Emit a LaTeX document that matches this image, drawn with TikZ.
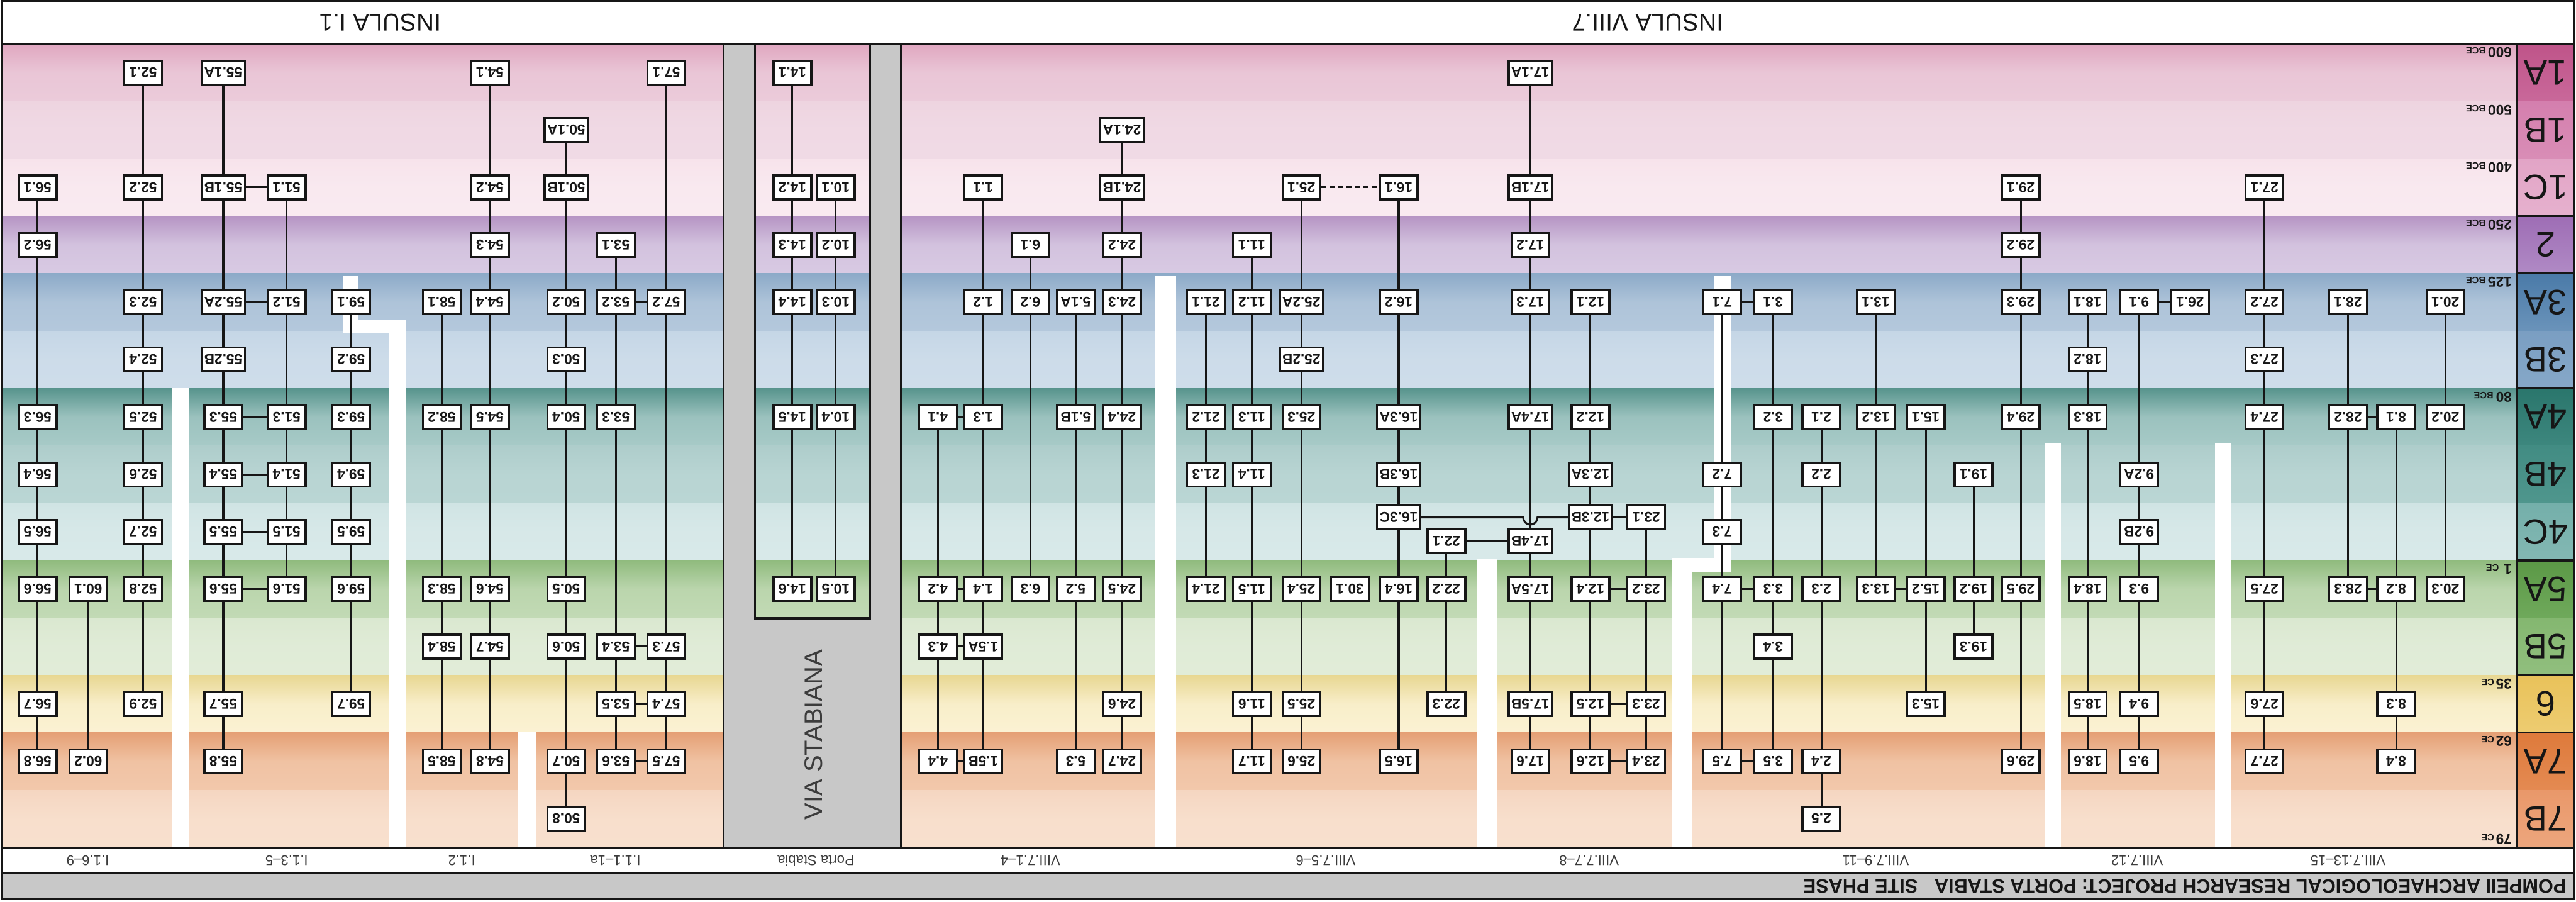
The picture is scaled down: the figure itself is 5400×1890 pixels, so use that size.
\documentclass[tikz,border=0pt]{standalone}
\usepackage{fontspec}
\setmainfont{Liberation Sans}
\usetikzlibrary{positioning}
\definecolor{ink}{HTML}{161616}
\definecolor{road}{HTML}{C8C8C8}
\definecolor{street}{HTML}{3C3C3C}
\pgfdeclarelayer{bands}
\pgfdeclarelayer{links}
\pgfsetlayers{bands,links,main}

\begin{document}
\begin{tikzpicture}[x=0.01cm,y=-0.01cm,
  ctx/.style={draw=ink,line width=1.25pt,fill=white,rotate=180,minimum width=0.79cm,minimum height=0.5cm,
    inner xsep=1.5pt,inner ysep=0pt,font=\fontsize{8.5}{9}\selectfont\bfseries,text=ink},
  link/.style={draw=ink,line width=1.15pt},
  gap/.style={fill=white},
  rule/.style={draw=ink,line width=1.2pt},
  phaselbl/.style={rotate=180,font=\fontsize{21}{21}\selectfont,text=ink},
  datelbl/.style={rotate=180,inner sep=0pt,font=\fontsize{8.5}{9}\selectfont\bfseries,text=ink},
  area/.style={rotate=180,font=\fontsize{8.3}{9}\selectfont,text=street},
  insula/.style={rotate=180,font=\fontsize{14.5}{15}\selectfont,text=ink},
  banner/.style={rotate=180,inner sep=0pt,font=\fontsize{11.5}{12}\selectfont\bfseries,text=ink}]

  \useasboundingbox (0,0) rectangle (5400,1890);

  \begin{pgfonlayer}{bands}
    \fill[white] (0,0) rectangle (5400,1890);
    % phase bands
    \foreach \row/\ct/\cb in {0/E0A7C0/EBCBDA,1/EED4E0/F0DAE5,2/F7E3EB/F9EAF0,3/B695C4/D8CAE3,
        4/8CAAC8/B4C8DC,5/C5D6E6/CEDDEA,6/58948D/A7CAC7,7/AECDCB/BAD6D4,8/D0E4E4/D8E9E9,
        9/90BB7E/C2DAB5,10/DAE8D0/E1ECD8,11/E8D792/FBF2D3,12/E5A075/F2C8AB,13/F5D6C1/F8E0CE}{
      \definecolor{bandtop}{HTML}{\ct}\definecolor{bandbot}{HTML}{\cb}
      \shade[top color=bandtop,bottom color=bandbot,middle color=bandbot!85!bandtop]
        (3,{92+120.3*\row}) rectangle (5275,{92+120.3*(\row+1)});
    }
    % phase column
    \foreach \row/\ct/\cb in {0/BF5489/C9689A,1/D47FAE/D98DB6,2/E2A4C6/E6B1CE,3/9E6DB5/B08AC5,
        4/4A7AA8/6A93BA,5/7A9EC2/86A8C8,6/2A766C/3D877E,7/428C83/4F968D,8/74AFAA/83B8B3,
        9/5B9846/6FA95B,10/84B770/91BF7E,11/E9C25A/EDCC71,12/DE7A3B/E48A52,13/E9986A/EDA67D}{
      \definecolor{celltop}{HTML}{\ct}\definecolor{cellbot}{HTML}{\cb}
      \shade[top color=celltop,bottom color=cellbot]
        (5275,{92+120.3*\row}) rectangle (5396,{92+120.3*(\row+1)});
    }
    % via stabiana
    \fill[road] (1517,92) rectangle (1583,1776);
    \fill[road] (1824,92) rectangle (1889,1776);
    \fill[road] (1583,1296) rectangle (1824,1776);
    \fill[road] (3,1831) rectangle (5396,1885);
    % property divisions
    \fill[gap] (360,813) rectangle (396,1776);
    \fill[gap] (720,577) rectangle (752,697);
    \fill[gap] (720,670) rectangle (850,697);
    \fill[gap] (815,670) rectangle (850,1776);
    \fill[gap] (1085,1535) rectangle (1123,1776);
    \fill[gap] (2420,577) rectangle (2465,1776);
    \fill[gap] (3096,1172) rectangle (3139,1776);
    \fill[gap] (3506,1170) rectangle (3547,1776);
    \fill[gap] (3506,1170) rectangle (3630,1198);
    \fill[gap] (3593,577) rectangle (3630,1198);
    \fill[gap] (4286,930) rectangle (4320,1776);
    \fill[gap] (4643,930) rectangle (4678,1776);
  \end{pgfonlayer}

  % frame
  \draw[rule] (3,2) rectangle (5396,1885);
  \draw[rule] (3,92) -- (5396,92);
  \draw[rule] (3,1776) -- (5396,1776);
  \draw[rule] (3,1831) -- (5396,1831);
  \draw[rule] (1517,92) -- (1517,1776);
  \draw[rule] (1889,92) -- (1889,1776);
  \draw[rule] (1583,92) -- (1583,1296) -- (1824,1296) -- (1824,92);
  \draw[rule] (5275,92) -- (5275,1776);
  \foreach \row in {3,4,6,9,11,12}
    \draw[rule] (5275,{92+120.3*\row}) -- (5396,{92+120.3*\row});

  % headings
  \node[insula] (ins1) at (797,47) {INSULA I.1};
  \node[insula] (ins8) at (3454,47) {INSULA VIII.7};
  \node[rotate=90,font=\fontsize{15}{15}\selectfont,text=street] (via) at (1705,1540) {VIA STABIANA};
  \node[banner,anchor=west] (banner) at (5380,1858) {POMPEII ARCHAEOLOGICAL RESEARCH PROJECT: PORTA STABIA\hspace{10pt}SITE PHASE};
  \foreach \x/\t [count=\i] in {184/{I.1.6--9},601/{I.1.3--5},968/{I.1.2},1290/{I.1.1--1a},1710/{Porta Stabia},
      2160/{VIII.7.1--4},2779/{VIII.7.5--6},3331/{VIII.7.7--8},3932/{VIII.7.9--11},4480/{VIII.7.12},4922/{VIII.7.13--15}}
    \node[area] (area\i) at (\x,1804) {\t};

  % phases and dates
  \foreach \t [count=\i from 0] in {1A,1B,1C,2,3A,3B,4A,4B,4C,5A,5B,6,7A,7B}
    \node[phaselbl] (ph\i) at (5336,{152.2+120.3*\i}) {\t};
  \foreach \row/\yr/\era/\sp in {0/600/BCE/1.5,1/500/BCE/1.5,2/400/BCE/1.5,3/250/BCE/1.5,4/125/BCE/1.5,
      6/80/BCE/1.5,9/1/CE/3,11/35/CE/1,12/62/CE/1}
    \node[datelbl,anchor=south west] (d\row) at (5266,{99+120.3*\row}) {\yr\kern\sp pt{\fontsize{5.5}{6}\selectfont\era}};
  \node[datelbl,anchor=north west] (d13) at (5266,1771) {79\kern1pt{\fontsize{5.5}{6}\selectfont CE}};

  % insula I.1
  \foreach \row/\lbl in {2/1,3/2,6/3,7/4,8/5,9/6,11/7,12/8}
    \node[ctx] (c56-\lbl) at (79,{152.2+120.3*\row}) {56.\lbl};
  \foreach \row/\lbl in {9/1,12/2}
    \node[ctx] (c60-\lbl) at (185,{152.2+120.3*\row}) {60.\lbl};
  \foreach \row/\lbl in {0/1,2/2,4/3,5/4,6/5,7/6,8/7,9/8,11/9}
    \node[ctx] (c52-\lbl) at (300,{152.2+120.3*\row}) {52.\lbl};
  \foreach \row/\lbl in {0/1A,2/1B,4/2A,5/2B,6/3,7/4,8/5,9/6,11/7,12/8}
    \node[ctx] (c55-\lbl) at (468,{152.2+120.3*\row}) {55.\lbl};
  \foreach \row/\lbl in {2/1,4/2,6/3,7/4,8/5,9/6}
    \node[ctx] (c51-\lbl) at (601,{152.2+120.3*\row}) {51.\lbl};
  \foreach \row/\lbl in {4/1,5/2,6/3,7/4,8/5,9/6,11/7}
    \node[ctx] (c59-\lbl) at (736,{152.2+120.3*\row}) {59.\lbl};
  \foreach \row/\lbl in {4/1,6/2,9/3,10/4,12/5}
    \node[ctx] (c58-\lbl) at (926,{152.2+120.3*\row}) {58.\lbl};
  \foreach \row/\lbl in {0/1,2/2,3/3,4/4,6/5,9/6,10/7,12/8}
    \node[ctx] (c54-\lbl) at (1027,{152.2+120.3*\row}) {54.\lbl};
  \foreach \row/\lbl in {1/1A,2/1B,4/2,5/3,6/4,9/5,10/6,12/7,13/8}
    \node[ctx] (c50-\lbl) at (1187,{152.2+120.3*\row}) {50.\lbl};
  \foreach \row/\lbl in {3/1,4/2,6/3,10/4,11/5,12/6}
    \node[ctx] (c53-\lbl) at (1291,{152.2+120.3*\row}) {53.\lbl};
  \foreach \row/\lbl in {0/1,4/2,10/3,11/4,12/5}
    \node[ctx] (c57-\lbl) at (1397,{152.2+120.3*\row}) {57.\lbl};

  % porta stabia
  \foreach \row/\lbl in {0/1,2/2,3/3,4/4,6/5,9/6}
    \node[ctx] (c14-\lbl) at (1661,{152.2+120.3*\row}) {14.\lbl};
  \foreach \row/\lbl in {2/1,3/2,4/3,6/4,9/5}
    \node[ctx] (c10-\lbl) at (1752,{152.2+120.3*\row}) {10.\lbl};

  % insula VIII.7
  \foreach \row/\lbl in {6/1,9/2,10/3,12/4}
    \node[ctx] (c4-\lbl) at (1966,{152.2+120.3*\row}) {4.\lbl};
  \foreach \row/\lbl in {2/1,4/2,6/3,9/4,10/5A,12/5B}
    \node[ctx] (c1-\lbl) at (2061,{152.2+120.3*\row}) {1.\lbl};
  \foreach \row/\lbl in {3/1,4/2,9/3}
    \node[ctx] (c6-\lbl) at (2160,{152.2+120.3*\row}) {6.\lbl};
  \foreach \row/\lbl in {4/1A,6/1B,9/2,12/3}
    \node[ctx] (c5-\lbl) at (2255,{152.2+120.3*\row}) {5.\lbl};
  \foreach \row/\lbl in {1/1A,2/1B,3/2,4/3,6/4,9/5,11/6,12/7}
    \node[ctx] (c24-\lbl) at (2352,{152.2+120.3*\row}) {24.\lbl};
  \foreach \row/\lbl in {4/1,6/2,7/3,9/4}
    \node[ctx] (c21-\lbl) at (2528,{152.2+120.3*\row}) {21.\lbl};
  \foreach \row/\lbl in {3/1,4/2,6/3,7/4,9/5,11/6,12/7}
    \node[ctx] (c11-\lbl) at (2624,{152.2+120.3*\row}) {11.\lbl};
  \foreach \row/\lbl in {2/1,4/2A,5/2B,6/3,9/4,11/5,12/6}
    \node[ctx] (c25-\lbl) at (2728,{152.2+120.3*\row}) {25.\lbl};
  \node[ctx] (c30-1) at (2830,{152.2+120.3*9}) {30.1};
  \foreach \row/\lbl in {2/1,4/2,6/3A,7/3B,7.75/3C,9/4,12/5}
    \node[ctx] (c16-\lbl) at (2932,{152.2+120.3*\row}) {16.\lbl};
  \foreach \row/\lbl in {8.16/1,9/2,11/3}
    \node[ctx] (c22-\lbl) at (3032,{152.2+120.3*\row}) {22.\lbl};
  \foreach \row/\lbl in {0/1A,2/1B,3/2,4/3,6/4A,8.16/4B,9/5A,11/5B,12/6}
    \node[ctx] (c17-\lbl) at (3208,{152.2+120.3*\row}) {17.\lbl};
  \foreach \row/\lbl in {4/1,6/2,7/3A,7.75/3B,9/4,11/5,12/6}
    \node[ctx] (c12-\lbl) at (3334,{152.2+120.3*\row}) {12.\lbl};
  \foreach \row/\lbl in {7.75/1,9/2,11/3,12/4}
    \node[ctx] (c23-\lbl) at (3451,{152.2+120.3*\row}) {23.\lbl};
  \foreach \row/\lbl in {4/1,7/2,8/3,9/4,12/5}
    \node[ctx] (c7-\lbl) at (3610,{152.2+120.3*\row}) {7.\lbl};
  \foreach \row/\lbl in {4/1,6/2,9/3,10/4,12/5}
    \node[ctx] (c3-\lbl) at (3717,{152.2+120.3*\row}) {3.\lbl};
  \foreach \row/\lbl in {6/1,7/2,9/3,12/4,13/5}
    \node[ctx] (c2-\lbl) at (3818,{152.2+120.3*\row}) {2.\lbl};
  \foreach \row/\lbl in {4/1,6/2,9/3}
    \node[ctx] (c13-\lbl) at (3932,{152.2+120.3*\row}) {13.\lbl};
  \foreach \row/\lbl in {6/1,9/2,11/3}
    \node[ctx] (c15-\lbl) at (4037,{152.2+120.3*\row}) {15.\lbl};
  \foreach \row/\lbl in {7/1,9/2,10/3}
    \node[ctx] (c19-\lbl) at (4137,{152.2+120.3*\row}) {19.\lbl};
  \foreach \row/\lbl in {2/1,3/2,4/3,6/4,9/5,12/6}
    \node[ctx] (c29-\lbl) at (4236,{152.2+120.3*\row}) {29.\lbl};
  \foreach \row/\lbl in {4/1,5/2,6/3,9/4,11/5,12/6}
    \node[ctx] (c18-\lbl) at (4376,{152.2+120.3*\row}) {18.\lbl};
  \foreach \row/\lbl in {4/1,7/2A,8/2B,9/3,11/4,12/5}
    \node[ctx] (c9-\lbl) at (4484,{152.2+120.3*\row}) {9.\lbl};
  \node[ctx] (c26-1) at (4591,{152.2+120.3*4}) {26.1};
  \foreach \row/\lbl in {2/1,4/2,5/3,6/4,9/5,11/6,12/7}
    \node[ctx] (c27-\lbl) at (4747,{152.2+120.3*\row}) {27.\lbl};
  \foreach \row/\lbl in {4/1,6/2,9/3}
    \node[ctx] (c28-\lbl) at (4922,{152.2+120.3*\row}) {28.\lbl};
  \foreach \row/\lbl in {6/1,9/2,11/3,12/4}
    \node[ctx] (c8-\lbl) at (5023,{152.2+120.3*\row}) {8.\lbl};
  \foreach \row/\lbl in {4/1,6/2,9/3}
    \node[ctx] (c20-\lbl) at (5126,{152.2+120.3*\row}) {20.\lbl};

  \coordinate (hopL) at (3193,{152.2+120.3*7.75});

  \begin{pgfonlayer}{links}
    % sequences
    \foreach \lbl [remember=\lbl as \prev (initially 1)] in {2,...,8} \draw[link] (c56-\prev) -- (c56-\lbl);
    \draw[link] (c60-1) -- (c60-2);
    \foreach \lbl [remember=\lbl as \prev (initially 1)] in {2,...,9} \draw[link] (c52-\prev) -- (c52-\lbl);
    \foreach \lbl [remember=\lbl as \prev (initially 1A)] in {1B,2A,2B,3,4,5,6,7,8} \draw[link] (c55-\prev) -- (c55-\lbl);
    \foreach \lbl [remember=\lbl as \prev (initially 1)] in {2,...,6} \draw[link] (c51-\prev) -- (c51-\lbl);
    \foreach \lbl [remember=\lbl as \prev (initially 1)] in {2,...,7} \draw[link] (c59-\prev) -- (c59-\lbl);
    \foreach \lbl [remember=\lbl as \prev (initially 1)] in {2,...,5} \draw[link] (c58-\prev) -- (c58-\lbl);
    \foreach \lbl [remember=\lbl as \prev (initially 1)] in {2,...,8} \draw[link] (c54-\prev) -- (c54-\lbl);
    \foreach \lbl [remember=\lbl as \prev (initially 1A)] in {1B,2,3,4,5,6,7,8} \draw[link] (c50-\prev) -- (c50-\lbl);
    \foreach \lbl [remember=\lbl as \prev (initially 1)] in {2,...,6} \draw[link] (c53-\prev) -- (c53-\lbl);
    \foreach \lbl [remember=\lbl as \prev (initially 1)] in {2,...,5} \draw[link] (c57-\prev) -- (c57-\lbl);
    \foreach \lbl [remember=\lbl as \prev (initially 1)] in {2,...,6} \draw[link] (c14-\prev) -- (c14-\lbl);
    \foreach \lbl [remember=\lbl as \prev (initially 1)] in {2,...,5} \draw[link] (c10-\prev) -- (c10-\lbl);
    \foreach \lbl [remember=\lbl as \prev (initially 1)] in {2,3,4} \draw[link] (c4-\prev) -- (c4-\lbl);
    \foreach \lbl [remember=\lbl as \prev (initially 1)] in {2,3,4,5A,5B} \draw[link] (c1-\prev) -- (c1-\lbl);
    \foreach \lbl [remember=\lbl as \prev (initially 1)] in {2,3} \draw[link] (c6-\prev) -- (c6-\lbl);
    \foreach \lbl [remember=\lbl as \prev (initially 1A)] in {1B,2,3} \draw[link] (c5-\prev) -- (c5-\lbl);
    \foreach \lbl [remember=\lbl as \prev (initially 1A)] in {1B,2,3,4,5,6,7} \draw[link] (c24-\prev) -- (c24-\lbl);
    \foreach \lbl [remember=\lbl as \prev (initially 1)] in {2,3,4} \draw[link] (c21-\prev) -- (c21-\lbl);
    \foreach \lbl [remember=\lbl as \prev (initially 1)] in {2,...,7} \draw[link] (c11-\prev) -- (c11-\lbl);
    \foreach \lbl [remember=\lbl as \prev (initially 1)] in {2A,2B,3,4,5,6} \draw[link] (c25-\prev) -- (c25-\lbl);
    \foreach \lbl [remember=\lbl as \prev (initially 1)] in {2,3A,3B,3C,4,5} \draw[link] (c16-\prev) -- (c16-\lbl);
    \foreach \lbl [remember=\lbl as \prev (initially 1)] in {2,3} \draw[link] (c22-\prev) -- (c22-\lbl);
    \foreach \lbl [remember=\lbl as \prev (initially 1A)] in {1B,2,3,4A,4B,5A,5B,6} \draw[link] (c17-\prev) -- (c17-\lbl);
    \foreach \lbl [remember=\lbl as \prev (initially 1)] in {2,3A,3B,4,5,6} \draw[link] (c12-\prev) -- (c12-\lbl);
    \foreach \lbl [remember=\lbl as \prev (initially 1)] in {2,3,4} \draw[link] (c23-\prev) -- (c23-\lbl);
    \foreach \lbl [remember=\lbl as \prev (initially 1)] in {2,...,5} \draw[link] (c7-\prev) -- (c7-\lbl);
    \foreach \lbl [remember=\lbl as \prev (initially 1)] in {2,...,5} \draw[link] (c3-\prev) -- (c3-\lbl);
    \foreach \lbl [remember=\lbl as \prev (initially 1)] in {2,...,5} \draw[link] (c2-\prev) -- (c2-\lbl);
    \foreach \lbl [remember=\lbl as \prev (initially 1)] in {2,3} \draw[link] (c13-\prev) -- (c13-\lbl);
    \foreach \lbl [remember=\lbl as \prev (initially 1)] in {2,3} \draw[link] (c15-\prev) -- (c15-\lbl);
    \foreach \lbl [remember=\lbl as \prev (initially 1)] in {2,3} \draw[link] (c19-\prev) -- (c19-\lbl);
    \foreach \lbl [remember=\lbl as \prev (initially 1)] in {2,...,6} \draw[link] (c29-\prev) -- (c29-\lbl);
    \foreach \lbl [remember=\lbl as \prev (initially 1)] in {2,...,6} \draw[link] (c18-\prev) -- (c18-\lbl);
    \foreach \lbl [remember=\lbl as \prev (initially 1)] in {2A,2B,3,4,5} \draw[link] (c9-\prev) -- (c9-\lbl);
    \foreach \lbl [remember=\lbl as \prev (initially 1)] in {2,...,7} \draw[link] (c27-\prev) -- (c27-\lbl);
    \foreach \lbl [remember=\lbl as \prev (initially 1)] in {2,3} \draw[link] (c28-\prev) -- (c28-\lbl);
    \foreach \lbl [remember=\lbl as \prev (initially 1)] in {2,3,4} \draw[link] (c8-\prev) -- (c8-\lbl);
    \foreach \lbl [remember=\lbl as \prev (initially 1)] in {2,3} \draw[link] (c20-\prev) -- (c20-\lbl);
    % side links
    \foreach \lft/\rgt in {c55-1B/c51-1,c55-2A/c51-2,c55-3/c51-3,c55-4/c51-4,c55-5/c51-5,c55-6/c51-6,
        c53-2/c57-2,c53-4/c57-3,c53-5/c57-4,c53-6/c57-5,
        c4-1/c1-3,c4-2/c1-4,c4-3/c1-5A,c4-4/c1-5B,
        c22-1/c17-4B,c12-3B/c23-1,c12-4/c23-2,c12-5/c23-3,c12-6/c23-4,
        c7-1/c3-1,c7-4/c3-3,c7-5/c3-5,c13-3/c15-2,c9-1/c26-1,c28-2/c8-1,c28-3/c8-2}
      \draw[link] (\lft) -- (\rgt);
    \draw[link,dash pattern=on 3pt off 2pt] (c25-1) -- (c16-1);
    \draw[link] (c16-3C) -- (hopL) arc[start angle=180,end angle=360,radius=0.15cm] -- (c12-3B);
  \end{pgfonlayer}
\end{tikzpicture}
\end{document}
